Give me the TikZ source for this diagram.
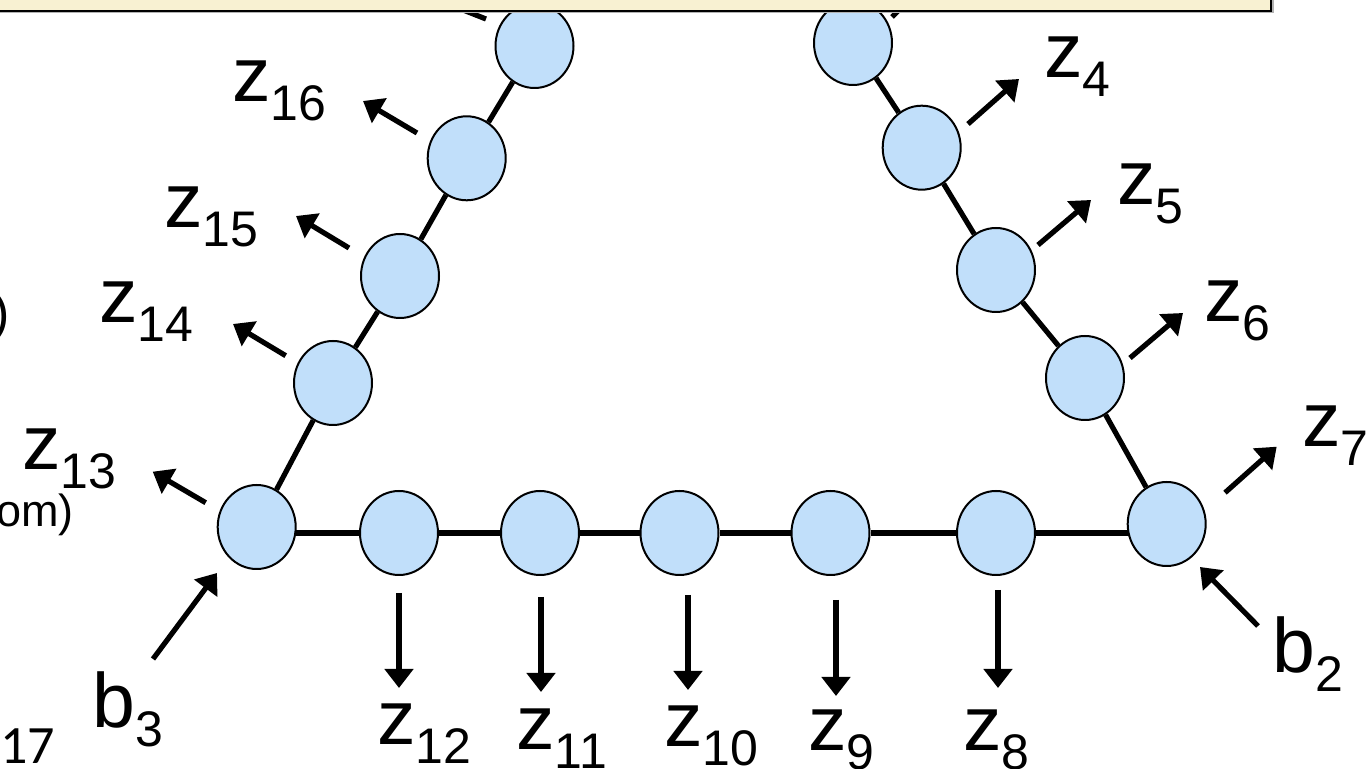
\documentclass[tikz,border=0pt]{standalone}
\usepackage{fontspec}
\setmainfont{Liberation Sans}
\newfontfamily\carl{Carlito}
\usetikzlibrary{arrows.meta,shapes.geometric,backgrounds}
\definecolor{nodeblue}{RGB}{193,223,250}
\definecolor{boxfill}{RGB}{248,241,210}
\newcommand{\lsub}[1]{\raisebox{-9.5pt}{\fontsize{25}{25}\selectfont #1}}
\begin{document}
\begin{tikzpicture}[x=0.5pt,y=-0.5pt,
  nd/.style={ellipse,draw=black,line width=1pt,fill=nodeblue,minimum width=39pt,minimum height=42pt,inner sep=0pt},
  edge/.style={line width=2.6pt},
  arr/.style={line width=2.6pt,-{Triangle[width=14pt,length=9.5pt]}},
  lbl/.style={inner sep=0pt,anchor=base west,font=\fontsize{38.5}{40}\selectfont},
  frag/.style={inner sep=0pt}]
\useasboundingbox (0,0) rectangle (1367,769);
% nodes
\node[nd] (L1) at (534.5,46) {};
\node[nd] (L2) at (466.7,158.3) {};
\node[nd] (L3) at (400,276) {};
\node[nd] (L4) at (333,383) {};
\node[nd] (C3) at (256.7,527) {};
\node[nd] (B1) at (399,533) {};
\node[nd] (B2) at (540,533) {};
\node[nd] (B3) at (679.5,533) {};
\node[nd] (B4) at (830.5,533) {};
\node[nd] (B5) at (996,533) {};
\node[nd] (C2) at (1166.7,524) {};
\node[nd] (R4) at (1085,378) {};
\node[nd] (R3) at (996,270) {};
\node[nd] (R2) at (921.7,147.7) {};
\node[nd] (R1) at (853,43) {};
% edges (behind the nodes)
\begin{pgfonlayer}{background}
\draw[edge] (C3) -- (L4) -- (L3) -- (L2) -- (L1);
\draw[edge] (C3 |- B1) -- (B1) -- (B2) -- (B3) -- (B4) -- (B5) -- (C2 |- B5);
\draw[edge] (C2) -- (R4) -- (R3) -- (R2) -- (R1);
\end{pgfonlayer}
% arrow coordinates
\coordinate (a16s) at (417,133);   \coordinate (a16e) at (363,101);
\coordinate (a15s) at (349,248);   \coordinate (a15e) at (296,216);
\coordinate (a14s) at (285.7,355.7); \coordinate (a14e) at (233,324);
\coordinate (a13s) at (205.7,502.7); \coordinate (a13e) at (152.7,471.7);
\coordinate (ab3s) at (153,659);   \coordinate (ab3e) at (217,573);
\coordinate (a12s) at (399,593);   \coordinate (a12e) at (399,688);
\coordinate (a11s) at (541,597);   \coordinate (a11e) at (541,692);
\coordinate (a10s) at (688,595);   \coordinate (a10e) at (688,690);
\coordinate (a9s) at (836,600);    \coordinate (a9e) at (836,696);
\coordinate (a8s) at (998,590);    \coordinate (a8e) at (998,688);
\coordinate (a4s) at (968,124);    \coordinate (a4e) at (1019,79);
\coordinate (a5s) at (1038,245);   \coordinate (a5e) at (1091,200);
\coordinate (a6s) at (1130,358);   \coordinate (a6e) at (1183,313);
\coordinate (a7s) at (1225,492.7); \coordinate (a7e) at (1276.7,446.7);
\coordinate (ab2s) at (1258,626);  \coordinate (ab2e) at (1200,567);
\foreach \n in {16,15,14,13,b3,12,11,10,9,8,4,5,6,7,b2}
  \draw[arr] (a\n s) -- (a\n e);
% fragments of arrows hidden under the box
\coordinate (f1a) at (486,19); \coordinate (f1b) at (458,8);
\coordinate (f2a) at (892,17); \coordinate (f2b) at (903,6);
\draw[edge] (f1a) -- (f1b);
\draw[edge] (f2a) -- (f2b);
% top box (cropped)
\fill[gray!60] (-10,-20) rectangle (1273.5,13.3);
\draw[line width=1pt,fill=boxfill] (-10,-20) rectangle (1270.5,10.8);
% labels
\node[lbl] (t16) at (232,102) {z\lsub{16}};
\node[lbl] (t15) at (164,228) {z\lsub{15}};
\node[lbl] (t14) at (99,323) {z\lsub{14}};
\node[lbl] (t13) at (22,470) {z\lsub{13}};
\node[lbl] (t12) at (377,745) {z\lsub{12}};
\node[lbl] (t11) at (516,750) {z\lsub{11}};
\node[lbl] (t10) at (664,747) {z\lsub{10}};
\node[lbl] (t9) at (808,751) {z\lsub{9}};
\node[lbl] (t8) at (963,751) {z\lsub{8}};
\node[lbl] (t4) at (1044,78) {z\lsub{4}};
\node[lbl] (t5) at (1117,205) {z\lsub{5}};
\node[lbl] (t6) at (1204,322) {z\lsub{6}};
\node[lbl] (t7) at (1302,447) {z\lsub{7}};
\node[lbl] (tb3) at (92,728) {b\lsub{3}};
\node[lbl] (tb2) at (1272,673) {b\lsub{2}};
% cropped texts at the left edge
\node[frag,anchor=base east,font=\fontsize{26}{26}\selectfont] (p1) at (10,331) {)};
\node[frag,anchor=base east,font=\fontsize{22.5}{24}\selectfont] (p2) at (74,527) {om)};
\node[frag,anchor=base west,font=\carl\fontsize{27}{27}\selectfont] (p3) at (0,764) {17};
\end{tikzpicture}
\end{document}
